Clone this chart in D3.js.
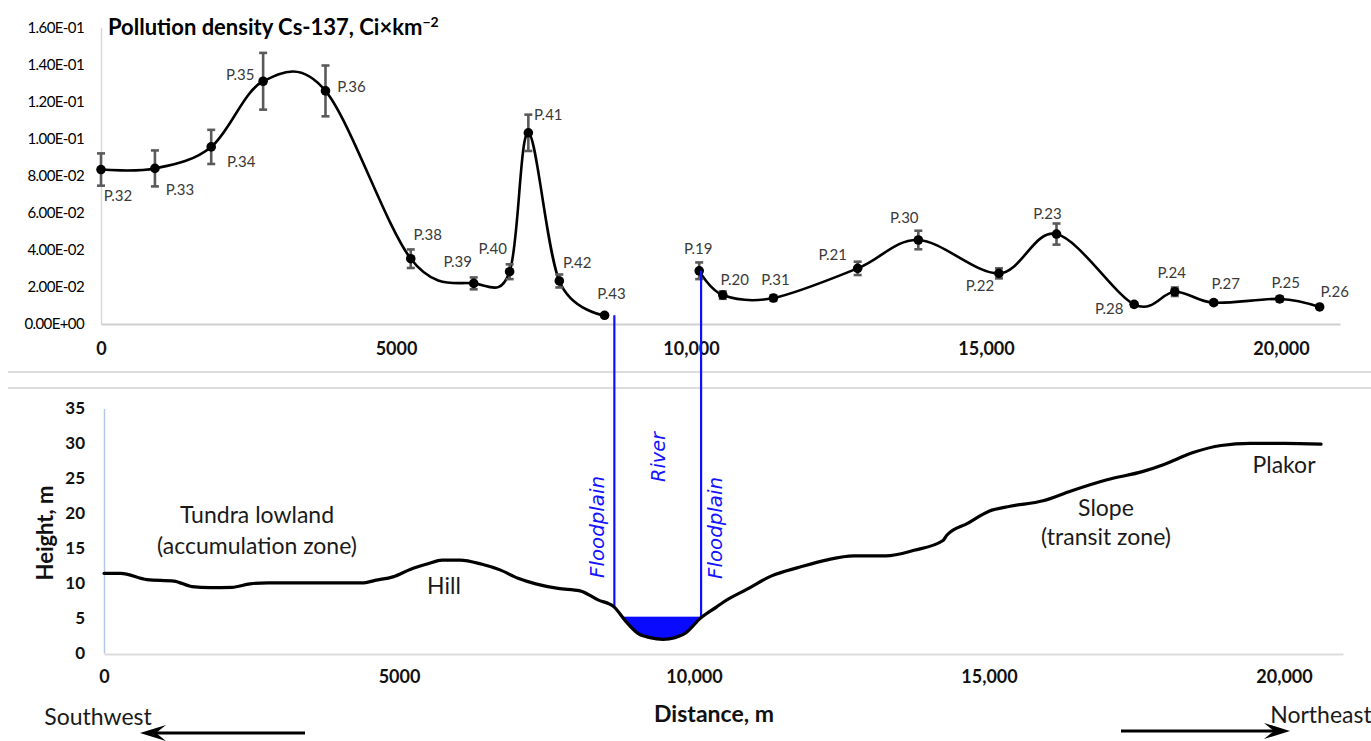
<!DOCTYPE html>
<html>
<head>
<meta charset="utf-8">
<script src="https://cdn.jsdelivr.net/npm/d3@7"></script>
<style>
  html, body { margin: 0; padding: 0; background: #fff; }
  svg { display: block; }
</style>
</head>
<body>
<script>
// ---- Cs-137 sampling points along the transect ----
const pointNames = ["P.32","P.33","P.34","P.35","P.36","P.38","P.39","P.40","P.41","P.42","P.43",
                    "P.19","P.20","P.31","P.21","P.30","P.22","P.23","P.28","P.24","P.27","P.25","P.26"];
const pointDistance = [0, 914, 1868, 2748, 3805, 5250, 6317, 6926, 7243, 7768, 8535,
                       10139, 10539, 11397, 12825, 13853, 15219, 16195, 17511, 18200, 18860, 19978, 20655];
const pointDensity = [0.0833, 0.0839, 0.0955, 0.1309, 0.1257, 0.0352, 0.0219, 0.0282, 0.1031, 0.0232, 0.0047,
                      0.0287, 0.0156, 0.0140, 0.0300, 0.0453, 0.0273, 0.0485, 0.0106, 0.0174, 0.0115, 0.0135, 0.0092];
const pointError = [0.0087, 0.0097, 0.0092, 0.0153, 0.0137, 0.0050, 0.0032, 0.0040, 0.0098, 0.0035, 0.0008,
                    0.0045, 0.0020, 0.0015, 0.0036, 0.0050, 0.0027, 0.0057, 0.0010, 0.0023, 0.0010, 0.0012, 0.0005];
// the river splits the line into two runs
const leftBankNames = ["P.32","P.33","P.34","P.35","P.36","P.38","P.39","P.40","P.41","P.42","P.43"];

// ---- elevation profile ----
const profileDistance = [0, 280, 729, 1186, 1492, 1797, 2170, 2475, 2780, 3534, 4407, 4593, 4898, 5198, 5502,
  5729, 6034, 6407, 6712, 7017, 7317, 7695, 8068, 8373, 8644, 8848, 9051, 9254, 9475, 9678, 9847, 10112,
  10385, 10502, 10893, 11305, 11797, 12238, 12706, 13250, 13730, 14221, 14289, 14645, 15000, 15357, 15916,
  16391, 17001, 17612, 17967, 18459, 18934, 19425, 20001, 20628];
const profileHeight = [11.4, 11.4, 10.5, 10.3, 9.5, 9.35, 9.4, 9.9, 10.05, 10.05, 10.05, 10.4, 10.9, 12.0, 12.8,
  13.3, 13.3, 12.7, 11.9, 10.7, 9.9, 9.25, 8.9, 7.6, 6.6, 4.5, 2.8, 2.2, 1.95, 2.2, 2.8, 5.0,
  6.6, 7.3, 9.1, 11.0, 12.3, 13.3, 13.9, 13.9, 14.7, 16.1, 16.9, 18.6, 20.3, 21.0, 21.8,
  23.2, 24.8, 26.0, 27.0, 28.7, 29.7, 30.0, 30.0, 29.9];
const waterLevel = 5.2;
const floodplainLeft = 8650;
const floodplainRight = 10120;

// ---- axis ticks ----
const distanceTicks = [0, 5000, 10000, 15000, 20000];
const distanceTickLabels = ["0", "5000", "10,000", "15,000", "20,000"];
const densityTicks = [0, 0.02, 0.04, 0.06, 0.08, 0.10, 0.12, 0.14, 0.16];
const heightTicks = [0, 5, 10, 15, 20, 25, 30, 35];

// label placement around each sampling point (dx, dy from the marker)
const labelOffsets = {
  "P.32":[17,28],"P.33":[25,23],"P.34":[30,16],"P.35":[-23,-5],"P.36":[26,-3],"P.38":[17,-23],
  "P.39":[-16,-20],"P.40":[-17,-22],"P.41":[20,-17],"P.42":[18,-17],"P.43":[7,-20],"P.19":[-1,-21],
  "P.20":[12,-14],"P.31":[2,-17],"P.21":[-25,-12],"P.30":[-14,-21],"P.22":[-19,14],"P.23":[-9,-19],
  "P.28":[-25,6],"P.24":[-3,-18],"P.27":[12,-17],"P.25":[6,-15],"P.26":[15,-14]
};

const W = 1371, H = 741;
const FONT = "Lato, 'Open Sans', sans-serif";
const svg = d3.select("body").append("svg").attr("width", W).attr("height", H)
  .style("font-family", FONT);

// Excel style scientific labels, e.g. 1.60E-01
function sci(v) {
  const [m, e] = v.toExponential(2).split("e");
  const n = +e;
  return m.toUpperCase() + "E" + (n < 0 ? "-" : "+") + String(Math.abs(n)).padStart(2, "0");
}

// ---------------- upper panel: pollution density ----------------
const xTop = d3.scaleLinear().domain([0, 21000]).range([101, 1340]);
const yTop = d3.scaleLinear().domain([0, 0.16]).range([324, 27.3]);

const yAxisTop = svg.append("g").attr("transform", `translate(${xTop(0)},0)`)
  .call(d3.axisLeft(yTop).tickValues(densityTicks).tickFormat(sci).tickSize(0).tickSizeOuter(0).tickPadding(17));
yAxisTop.select(".domain").attr("stroke", "#d9d9d9").attr("stroke-width", 1.5);
yAxisTop.selectAll("text").style("font-family", FONT).attr("font-size", 15).attr("fill", "#000")
  .attr("letter-spacing", -0.6);

const xAxisTop = svg.append("g").attr("transform", `translate(0,${yTop(0)})`)
  .call(d3.axisBottom(xTop).tickValues(distanceTicks)
    .tickFormat((d, i) => distanceTickLabels[i]).tickSize(0).tickSizeOuter(0).tickPadding(18));
xAxisTop.select(".domain").attr("stroke", "#d0d0d0").attr("stroke-width", 2);
xAxisTop.selectAll("text").style("font-family", FONT).attr("font-size", 18).attr("font-weight", 700).attr("fill", "#111");

// title
const title = svg.append("text").attr("x", 108).attr("y", 35)
  .attr("font-size", 22).attr("font-weight", 700).attr("fill", "#000")
  .text("Pollution density Cs-137, Ci×km");
title.append("tspan").attr("font-size", 14).attr("dy", -8).text("−2");

const points = pointNames.map((n, i) => ({
  name: n, d: pointDistance[i], v: pointDensity[i], e: pointError[i]
}));
const runLeft = points.filter(p => leftBankNames.includes(p.name));
const runRight = points.filter(p => !leftBankNames.includes(p.name));

const smooth = d3.line().x(p => xTop(p.d)).y(p => yTop(p.v)).curve(d3.curveCardinal.tension(0));
svg.append("g").selectAll("path").data([runLeft, runRight]).join("path")
  .attr("d", smooth).attr("fill", "none").attr("stroke", "#000").attr("stroke-width", 2.6);

// error bars
const eb = svg.append("g").attr("stroke", "#5a5a5a").attr("stroke-width", 2.6);
points.forEach(p => {
  const x = xTop(p.d), y0 = yTop(p.v - p.e), y1 = yTop(p.v + p.e);
  eb.append("line").attr("x1", x).attr("x2", x).attr("y1", y0).attr("y2", y1);
  eb.append("line").attr("x1", x - 4).attr("x2", x + 4).attr("y1", y0).attr("y2", y0);
  eb.append("line").attr("x1", x - 4).attr("x2", x + 4).attr("y1", y1).attr("y2", y1);
});

// markers
svg.append("g").selectAll("circle").data(points).join("circle")
  .attr("cx", p => xTop(p.d)).attr("cy", p => yTop(p.v)).attr("r", 4.8).attr("fill", "#000");

// point labels
svg.append("g").selectAll("text").data(points).join("text")
  .attr("x", p => xTop(p.d) + labelOffsets[p.name][0])
  .attr("y", p => yTop(p.v) + labelOffsets[p.name][1])
  .attr("text-anchor", "middle").attr("dominant-baseline", "middle")
  .attr("font-size", 15).attr("fill", "#3a3a3a").text(p => p.name);

// separators between the panels
svg.append("g").attr("stroke", "#dcdcdc").attr("stroke-width", 2)
  .selectAll("line").data([372, 388]).join("line")
  .attr("x1", 8).attr("x2", W).attr("y1", d => d).attr("y2", d => d);

// ---------------- lower panel: elevation profile ----------------
const xBot = d3.scaleLinear().domain([0, 21000]).range([104, 1343]);
const yBot = d3.scaleLinear().domain([0, 35]).range([653, 408.5]);

const yAxisBot = svg.append("g").attr("transform", `translate(${xBot(0)},0)`)
  .call(d3.axisLeft(yBot).tickValues(heightTicks).tickSize(0).tickSizeOuter(0).tickPadding(19));
yAxisBot.select(".domain").attr("stroke", "#b4c7e7").attr("stroke-width", 1.5);
yAxisBot.selectAll("text").style("font-family", FONT).attr("font-size", 17).attr("font-weight", 700).attr("fill", "#111");

const xAxisBot = svg.append("g").attr("transform", `translate(0,${yBot(0) + 1})`)
  .call(d3.axisBottom(xBot).tickValues(distanceTicks)
    .tickFormat((d, i) => distanceTickLabels[i]).tickSize(0).tickSizeOuter(0).tickPadding(16));
xAxisBot.select(".domain").attr("stroke", "#dcdcdc").attr("stroke-width", 2);
xAxisBot.selectAll("text").style("font-family", FONT).attr("font-size", 18).attr("font-weight", 700).attr("fill", "#111");

const profile = profileDistance.map((d, i) => ({ d, h: profileHeight[i] }));
const heightAt = d => {
  const i = d3.bisectLeft(profileDistance, d);
  if (i <= 0) return profileHeight[0];
  if (i >= profileDistance.length) return profileHeight[profileHeight.length - 1];
  const t = (d - profileDistance[i - 1]) / (profileDistance[i] - profileDistance[i - 1]);
  return profileHeight[i - 1] + t * (profileHeight[i] - profileHeight[i - 1]);
};

// river water: everything below the water level and above the ground, inside the channel
const groundCurve = d3.curveMonotoneX;
svg.append("clipPath").attr("id", "aboveGround").append("path").datum(profile)
  .attr("d", d3.area().x(p => xBot(p.d)).y0(yBot(35)).y1(p => yBot(p.h)).curve(groundCurve));
svg.append("rect").attr("clip-path", "url(#aboveGround)")
  .attr("x", xBot(floodplainLeft)).attr("width", xBot(floodplainRight) - xBot(floodplainLeft))
  .attr("y", yBot(waterLevel)).attr("height", yBot(0) - yBot(waterLevel))
  .attr("fill", "#0a0aff");

// floodplain boundaries running from the upper panel down to the ground / water
const p43 = points.find(p => p.name === "P.43");
const p19 = points.find(p => p.name === "P.19");
const bank = svg.append("g").attr("stroke", "#1010ff").attr("stroke-width", 2.2);
bank.append("line").attr("x1", xBot(floodplainLeft)).attr("x2", xBot(floodplainLeft))
  .attr("y1", yTop(p43.v)).attr("y2", yBot(heightAt(floodplainLeft)));
bank.append("line").attr("x1", xBot(floodplainRight)).attr("x2", xBot(floodplainRight))
  .attr("y1", yTop(p19.v)).attr("y2", yBot(waterLevel));

// ground line
svg.append("path").datum(profile)
  .attr("d", d3.line().x(p => xBot(p.d)).y(p => yBot(p.h)).curve(groundCurve))
  .attr("fill", "none").attr("stroke", "#000").attr("stroke-width", 3.2)
  .attr("stroke-linejoin", "round").attr("stroke-linecap", "round");

// vertical blue captions, sized to run the given length along the line
const blueText = (x, y, s, len) => {
  const t = svg.append("text")
    .attr("transform", `translate(${x},${y}) rotate(-90)`)
    .attr("text-anchor", "middle").attr("dominant-baseline", "middle")
    .style("font-family", "'DejaVu Sans', Verdana, sans-serif").style("font-style", "italic")
    .attr("font-size", 20).attr("fill", "#1414ff").text(s);
  const w = t.node().getComputedTextLength();
  if (w > 0) t.attr("font-size", 20 * len / w);
};
blueText(598, 527, "Floodplain", 102);
blueText(659, 457, "River", 50);
blueText(716, 528, "Floodplain", 102);

// zone captions
const caption = (x, y, s) => svg.append("text").attr("x", x).attr("y", y)
  .attr("text-anchor", "middle").attr("dominant-baseline", "middle")
  .attr("font-size", 23).attr("fill", "#1a1a1a").text(s);
caption(257, 517, "Tundra lowland");
caption(257, 548, "(accumulation zone)");
caption(444, 588, "Hill");
caption(1106, 510, "Slope");
caption(1106, 539, "(transit zone)");
caption(1284, 467, "Plakor");

// axis titles
svg.append("text").attr("transform", "translate(47,533) rotate(-90)")
  .attr("text-anchor", "middle").attr("dominant-baseline", "middle")
  .attr("font-size", 22).attr("font-weight", 700).attr("fill", "#111").text("Height, m");
svg.append("text").attr("x", 714).attr("y", 716)
  .attr("text-anchor", "middle").attr("dominant-baseline", "middle")
  .attr("font-size", 23).attr("font-weight", 700).attr("fill", "#111").text("Distance, m");

// direction captions and arrows
caption(98, 719, "Southwest");
caption(1321, 717, "Northeast");
const arrow = (xFrom, xTo, y) => {
  const dir = Math.sign(xTo - xFrom);
  svg.append("line").attr("x1", xFrom).attr("x2", xTo - dir * 14).attr("y1", y).attr("y2", y)
    .attr("stroke", "#000").attr("stroke-width", 3);
  const hx = xTo, L = 26, Wd = 8, N = 16;
  svg.append("path")
    .attr("d", `M${hx},${y} L${hx - dir * L},${y - Wd} L${hx - dir * N},${y} L${hx - dir * L},${y + Wd} Z`)
    .attr("fill", "#000");
};
arrow(305, 140, 733);
arrow(1121, 1290, 731);
</script>
</body>
</html>
